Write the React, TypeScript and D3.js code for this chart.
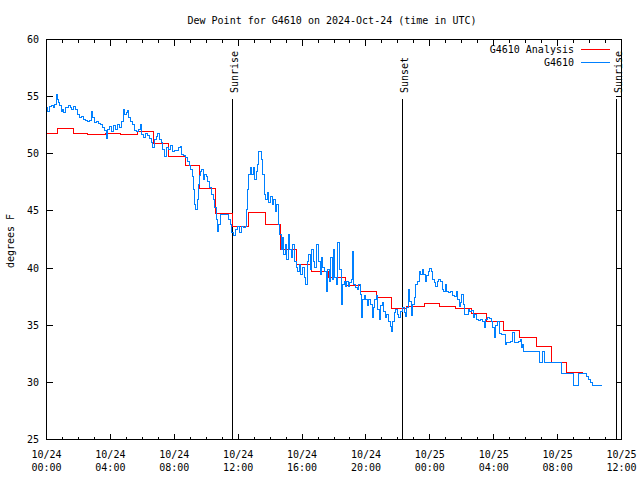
import React from "react";
import * as d3 from "d3";

// ---- data (hours since 2024-10-24 00:00 UTC) ----
const obsHours = [
  0.0, 0.09, 0.19, 0.31, 0.44, 0.53, 0.63, 0.69, 0.75, 0.84, 0.91, 1.0, 1.09, 1.19, 1.28, 1.38, 1.5, 1.59, 1.69, 1.81,
  1.94, 2.06, 2.19, 2.31, 2.44, 2.56, 2.69, 2.81, 2.91, 3.0, 3.13, 3.25, 3.38, 3.5, 3.63, 3.75, 3.84, 3.94, 4.06, 4.19,
  4.31, 4.44, 4.56, 4.69, 4.81, 4.91, 5.0, 5.06, 5.16, 5.25, 5.38, 5.5, 5.63, 5.75, 5.88, 5.97, 6.06, 6.19, 6.31, 6.44,
  6.56, 6.63, 6.75, 6.88, 6.94, 7.06, 7.19, 7.28, 7.38, 7.5, 7.63, 7.75, 7.88, 8.0, 8.13, 8.25, 8.38, 8.47, 8.56, 8.69,
  8.81, 8.94, 9.03, 9.13, 9.22, 9.28, 9.34, 9.44, 9.5, 9.56, 9.63, 9.69, 9.81, 9.91, 10.0, 10.09, 10.19, 10.31, 10.44, 10.53,
  10.63, 10.69, 10.78, 10.88, 11.0, 11.13, 11.25, 11.38, 11.5, 11.59, 11.69, 11.81, 11.94, 12.06, 12.19, 12.31, 12.44, 12.5, 12.56, 12.66,
  12.75, 12.84, 12.94, 13.03, 13.13, 13.22, 13.28, 13.38, 13.47, 13.53, 13.63, 13.72, 13.81, 13.91, 14.0, 14.13, 14.22, 14.31, 14.41, 14.5,
  14.59, 14.69, 14.75, 14.84, 14.94, 15.03, 15.13, 15.22, 15.31, 15.41, 15.5, 15.63, 15.72, 15.81, 15.91, 16.0, 16.13, 16.22, 16.31, 16.41,
  16.5, 16.59, 16.69, 16.81, 16.91, 17.0, 17.13, 17.22, 17.31, 17.41, 17.5, 17.59, 17.69, 17.78, 17.88, 17.97, 18.06, 18.16, 18.25, 18.34,
  18.44, 18.53, 18.63, 18.72, 18.81, 18.91, 19.0, 19.09, 19.16, 19.25, 19.34, 19.44, 19.53, 19.63, 19.72, 19.81, 19.91, 20.0, 20.09, 20.19,
  20.28, 20.38, 20.47, 20.56, 20.66, 20.75, 20.84, 20.94, 21.03, 21.13, 21.22, 21.31, 21.44, 21.53, 21.59, 21.69, 21.78, 21.88, 21.97, 22.06,
  22.19, 22.31, 22.41, 22.5, 22.56, 22.66, 22.75, 22.84, 22.94, 23.03, 23.13, 23.25, 23.34, 23.44, 23.53, 23.63, 23.72, 23.81, 23.91, 24.0,
  24.09, 24.19, 24.28, 24.38, 24.47, 24.56, 24.69, 24.78, 24.88, 24.97, 25.06, 25.19, 25.31, 25.44, 25.56, 25.66, 25.75, 25.84, 25.94, 26.0,
  26.09, 26.19, 26.31, 26.41, 26.5, 26.63, 26.72, 26.81, 26.94, 27.06, 27.19, 27.31, 27.41, 27.5, 27.63, 27.75, 27.88, 27.94, 28.03, 28.13,
  28.25, 28.38, 28.5, 28.63, 28.72, 28.81, 28.94, 29.06, 29.19, 29.31, 29.44, 29.56, 29.66, 29.72, 29.81, 29.88, 30.88, 31.06, 31.19, 32.25,
  33.0, 33.31, 33.81, 33.94, 34.06, 34.19, 34.75,
];

const obsDewPoint = [
  54.05, 53.7, 54.14, 54.23, 54.05, 54.31, 55.19, 54.75, 54.49, 54.23, 53.7, 53.88, 53.61, 54.05, 54.05, 54.23, 54.05, 53.88, 54.14, 53.88,
  53.44, 53.18, 53.26, 53.0, 52.91, 52.83, 52.91, 53.7, 53.18, 52.74, 52.83, 52.65, 52.56, 52.3, 52.04, 51.34, 52.13, 52.39, 51.95, 52.48,
  52.13, 52.56, 52.3, 52.83, 53.88, 53.44, 53.61, 53.79, 53.18, 52.83, 52.56, 52.04, 51.95, 52.13, 52.56, 51.69, 51.43, 51.78, 51.6, 51.34,
  50.99, 50.55, 51.25, 51.51, 51.78, 51.25, 50.99, 50.38, 49.76, 50.55, 50.38, 50.73, 50.2, 50.29, 50.29, 50.55, 50.64, 49.94, 49.85, 49.68,
  49.33, 48.98, 48.63, 48.01, 46.88, 45.56, 45.13, 46.0, 47.31, 48.1, 48.45, 48.63, 47.75, 48.19, 48.01, 47.58, 47.05, 46.44, 46.0, 45.3,
  44.25, 43.2, 43.81, 44.69, 44.69, 44.69, 44.69, 44.25, 43.81, 43.11, 42.85, 43.38, 43.64, 43.11, 43.64, 43.55, 43.64, 45.13, 46.88, 48.19,
  48.8, 48.19, 48.8, 47.75, 48.45, 49.06, 50.2, 50.2, 49.5, 48.19, 46.44, 46.0, 46.61, 45.74, 46.26, 45.56, 46.0, 44.95, 45.56, 43.81,
  42.94, 41.63, 42.68, 41.19, 42.06, 40.75, 42.94, 41.63, 40.93, 42.06, 40.58, 40.05, 39.7, 40.31, 39.44, 40.05, 39.18, 38.56, 40.58, 41.19,
  39.88, 41.63, 40.58, 40.05, 42.06, 40.58, 39.44, 40.93, 40.05, 39.7, 37.95, 39.88, 38.83, 40.93, 39.0, 41.63, 39.18, 38.56, 42.24, 39.88,
  36.81, 38.56, 38.83, 38.39, 38.83, 38.39, 38.74, 39.0, 41.45, 38.56, 38.3, 38.13, 38.56, 37.69, 35.68, 37.25, 37.6, 37.25, 36.73, 37.25,
  36.81, 35.68, 36.55, 37.25, 37.6, 36.38, 35.5, 36.73, 36.99, 36.2, 35.68, 35.94, 35.33, 34.89, 34.45, 35.33, 36.11, 36.38, 35.94, 35.68,
  36.2, 36.55, 36.11, 35.76, 36.55, 38.13, 37.08, 35.85, 36.81, 37.43, 38.56, 38.83, 39.7, 39.44, 39.88, 39.44, 38.83, 39.35, 39.7, 39.96,
  39.7, 39.0, 38.74, 38.39, 38.83, 39.0, 38.83, 38.13, 37.95, 38.56, 37.95, 37.86, 37.95, 37.6, 37.51, 37.95, 37.25, 36.64, 36.99, 37.69,
  36.81, 35.94, 35.94, 36.38, 36.2, 36.29, 35.68, 35.94, 35.5, 35.41, 35.5, 35.33, 34.8, 35.5, 35.68, 35.59, 35.33, 34.8, 33.93, 34.98,
  35.33, 34.28, 34.19, 34.19, 33.31, 33.49, 33.49, 33.58, 34.36, 33.49, 33.49, 33.58, 33.75, 33.05, 33.31, 32.7, 31.74, 32.7, 31.74, 30.78,
  29.73, 30.78, 30.51, 30.25, 29.99, 29.73, 29.73,
];

const analysisHours = [
  0.0, 0.67, 1.67, 2.56, 3.69, 4.63, 5.67, 6.67, 7.64, 8.69, 9.58, 10.61, 11.64, 12.64, 13.69, 14.63, 15.63, 16.61, 17.63, 18.69,
  19.63, 20.63, 21.63, 22.54, 23.69, 24.63, 25.63, 26.61, 27.54, 28.63, 29.63, 30.67, 31.64, 32.58, 33.58,
];
const analysisDewPoint = [
  51.8, 52.2, 51.75, 51.66, 51.8, 51.66, 51.92, 50.87, 49.73, 48.95, 47.0, 44.77, 43.6, 44.86, 43.78, 41.65, 40.3, 39.67, 39.15, 38.48,
  37.95, 37.4, 36.44, 36.6, 36.87, 36.6, 36.5, 36.0, 35.3, 34.54, 33.9, 33.1, 31.7, 30.9, 30.9,
];

const sunEvents = [
  { label: "Sunrise", hour: 11.63 },
  { label: "Sunset", hour: 22.27 },
  { label: "Sunrise", hour: 35.67 },
];

const yTicks = [25, 30, 35, 40, 45, 50, 55, 60];
const seriesNames = ["G4610 Analysis", "G4610"];
const seriesColors = ["#ff0000", "#0080ff"];

const TITLE = "Dew Point for G4610 on 2024-Oct-24 (time in UTC)";
const Y_LABEL = "degrees F";

const START = Date.UTC(2024, 9, 24, 0, 0);
const HOUR = 3600 * 1000;
const toDate = (h: number) => new Date(START + h * HOUR);

export default function App() {
  const W = 640;
  const H = 480;
  const L = 46.5, R = 621.5, T = 39.5, B = 439.5;
  const font = "'DejaVu Sans Mono', monospace";

  const x = d3.scaleUtc().domain([toDate(0), toDate(36)]).range([L, R]);
  const y = d3.scaleLinear().domain([25, 60]).range([B, T]);

  const majorTicks = x.ticks(d3.utcHour.every(4) as any);
  const minorTicks = x.ticks(d3.utcHour.every(1) as any);
  const fmtDate = d3.utcFormat("%m/%d");
  const fmtTime = d3.utcFormat("%H:%M");

  const line = d3
    .line<[number, number]>()
    .x((d) => x(toDate(d[0])))
    .y((d) => y(d[1]))
    .curve(d3.curveStepAfter);

  const obs: [number, number][] = obsHours.map((h, i) => [h, obsDewPoint[i]]);
  const ana: [number, number][] = analysisHours.map((h, i) => [h, analysisDewPoint[i]]);

  const majorLen = 6;
  const minorLen = 3;

  return (
    <svg
      width={W}
      height={H}
      style={{ position: "fixed", left: 0, top: 0, background: "#fff" }}
      fontFamily={font}
      fontSize={10}
    >
      <rect x={0} y={0} width={W} height={H} fill="#fff" />
      <text x={332} y={24} textAnchor="middle" fill="#000">
        {TITLE}
      </text>

      {/* x ticks */}
      <g stroke="#000" strokeWidth={1} shapeRendering="crispEdges">
        {minorTicks.map((t, i) => {
          const isMajor = majorTicks.some((m) => +m === +t);
          const len = isMajor ? majorLen : minorLen;
          const xx = x(t);
          return (
            <g key={"xt" + i}>
              <line x1={xx} x2={xx} y1={B} y2={B - len} />
              <line x1={xx} x2={xx} y1={T} y2={T + len} />
            </g>
          );
        })}
        {yTicks.map((v, i) => (
          <g key={"yt" + i}>
            <line x1={L} x2={L + majorLen} y1={y(v)} y2={y(v)} />
            <line x1={R} x2={R - majorLen} y1={y(v)} y2={y(v)} />
          </g>
        ))}
      </g>

      {/* x labels */}
      {majorTicks.map((t, i) => (
        <text key={"xl" + i} x={x(t)} textAnchor="middle" fill="#000">
          <tspan x={x(t)} y={458}>
            {fmtDate(t)}
          </tspan>
          <tspan x={x(t)} y={471}>
            {fmtTime(t)}
          </tspan>
        </text>
      ))}
      {/* y labels */}
      {yTicks.map((v, i) => (
        <text key={"yl" + i} x={39} y={y(v) + 3.5} textAnchor="end" fill="#000">
          {v}
        </text>
      ))}
      <text transform={`translate(14,241) rotate(-90)`} textAnchor="middle" fill="#000">
        {Y_LABEL}
      </text>

      {/* sun events */}
      {sunEvents.map((e, i) => {
        const xx = Math.round(x(toDate(e.hour))) + 0.5;
        return (
          <g key={"sun" + i}>
            <line x1={xx} x2={xx} y1={99} y2={B} stroke="#000" strokeWidth={1} shapeRendering="crispEdges" />
            <text transform={`translate(${xx + 5},93) rotate(-90)`} textAnchor="start" fill="#000">
              {e.label}
            </text>
          </g>
        );
      })}

      {/* series */}
      <path d={line(ana) || ""} fill="none" stroke={seriesColors[0]} strokeWidth={1} shapeRendering="crispEdges" />
      <path d={line(obs) || ""} fill="none" stroke={seriesColors[1]} strokeWidth={1} shapeRendering="crispEdges" />

      {/* legend */}
      {seriesNames.map((n, i) => (
        <g key={"lg" + i}>
          <text x={574} y={53 + i * 13} textAnchor="end" fill="#000">
            {n}
          </text>
          <line
            x1={581}
            x2={610}
            y1={49.5 + i * 13}
            y2={49.5 + i * 13}
            stroke={seriesColors[i]}
            strokeWidth={1}
            shapeRendering="crispEdges"
          />
        </g>
      ))}

      {/* border */}
      <rect x={L} y={T} width={R - L} height={B - T} fill="none" stroke="#000" strokeWidth={1} shapeRendering="crispEdges" />
    </svg>
  );
}
